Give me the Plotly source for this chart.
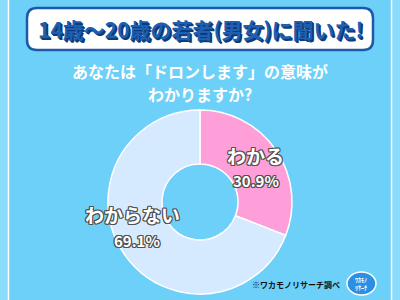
import plotly.graph_objects as go

# ---- data ----
labels = ["わかる", "わからない"]
values = [30.9, 69.1]
colors = ["#ff9fda", "#d6eaff"]
title_text = "14歳～20歳の若者(男女)に聞いた!"
question_lines = ["あなたは「ドロンします」の意味が", "わかりますか?"]
source_text = "※ワカモノリサーチ調べ"

W, H = 400, 300
BG = "#6dd0f8"
FONT = "Noto Sans CJK JP"

# donut geometry (pixels)
cx, cy, R, r = 200, 202, 92, 38

fig = go.Figure()
fig.add_trace(go.Pie(
    labels=labels, values=values, sort=False, direction="clockwise", rotation=0,
    hole=r / R, marker=dict(colors=colors, line=dict(color="white", width=1.5)),
    textinfo="none", hoverinfo="skip", showlegend=False,
    domain=dict(x=[(cx - R) / W, (cx + R) / W], y=[(H - cy - R) / H, (H - cy + R) / H]),
))

outline = ", ".join(f"{dx}px {dy}px 0 #505050" for dx in (-1, 0, 1) for dy in (-1, 0, 1) if dx or dy)

label_pos = [(255, 155, 256, 180), (132, 214, 137, 240)]
annotations = []
for lab, val, (lx, ly, px, py) in zip(labels, values, label_pos):
    annotations.append(dict(x=lx, y=ly, xref="x", yref="y", text=lab, showarrow=False,
                            font=dict(family=FONT, size=19, color="white", weight="bold", shadow=outline)))
    annotations.append(dict(x=px, y=py, xref="x", yref="y", text=f"{val}%", showarrow=False,
                            font=dict(family=FONT, size=15, color="white", weight="bold", shadow=outline)))

annotations.append(dict(x=200, y=29, xref="x", yref="y", text=title_text, showarrow=False,
                        font=dict(family=FONT, size=21, color="#1f5fb0", weight="bold",
                                  shadow="1px 1px 0 #0d3c7c, 2px 2px 0 #0d3c7c")))
for i, line in enumerate(question_lines):
    annotations.append(dict(x=200, y=71 + 23 * i, xref="x", yref="y", text=line, showarrow=False,
                            font=dict(family=FONT, size=16, color="white", weight="bold")))
annotations.append(dict(x=342, y=284, xref="x", yref="y", text=source_text, showarrow=False,
                        xanchor="right", font=dict(family=FONT, size=8, color="#111", weight="bold")))
annotations.append(dict(x=361, y=283, xref="x", yref="y", text="ﾜｶﾓﾉ<br>ﾘｻｰﾁ", showarrow=False,
                        font=dict(family=FONT, size=6, color="white", weight="bold")))

# rounded title box path
x0, x1, y0, y1, rr = 27, 373, 8, 50, 10
box = (f"M {x0+rr},{y0} L {x1-rr},{y0} Q {x1},{y0} {x1},{y0+rr} L {x1},{y1-rr} "
       f"Q {x1},{y1} {x1-rr},{y1} L {x0+rr},{y1} Q {x0},{y1} {x0},{y1-rr} "
       f"L {x0},{y0+rr} Q {x0},{y0} {x0+rr},{y0} Z")

shapes = [
    dict(type="rect", xref="x", yref="y", x0=0, x1=8, y0=0, y1=300, fillcolor="#8bdbfa", line_width=0, layer="below"),
    dict(type="rect", xref="x", yref="y", x0=392, x1=400, y0=0, y1=300, fillcolor="#8bdbfa", line_width=0, layer="below"),
    dict(type="line", xref="x", yref="y", x0=8.5, x1=8.5, y0=0, y1=300, line=dict(color="white", width=1.5), layer="below"),
    dict(type="line", xref="x", yref="y", x0=391.5, x1=391.5, y0=0, y1=300, line=dict(color="white", width=1.5), layer="below"),
    dict(type="path", xref="x", yref="y", path=box, fillcolor="white", line=dict(color="#1c5aa8", width=2.5)),
    dict(type="circle", xref="x", yref="y", x0=347, x1=376, y0=272, y1=295, fillcolor="#2b8fe3",
         line=dict(color="white", width=1.5)),
]

fig.update_layout(
    width=W, height=H, margin=dict(l=0, r=0, t=0, b=0),
    paper_bgcolor=BG, plot_bgcolor=BG,
    xaxis=dict(range=[0, W], visible=False, fixedrange=True),
    yaxis=dict(range=[H, 0], visible=False, fixedrange=True),
    annotations=annotations, shapes=shapes,
)

fig.write_html("out.html", config={"displayModeBar": False})
